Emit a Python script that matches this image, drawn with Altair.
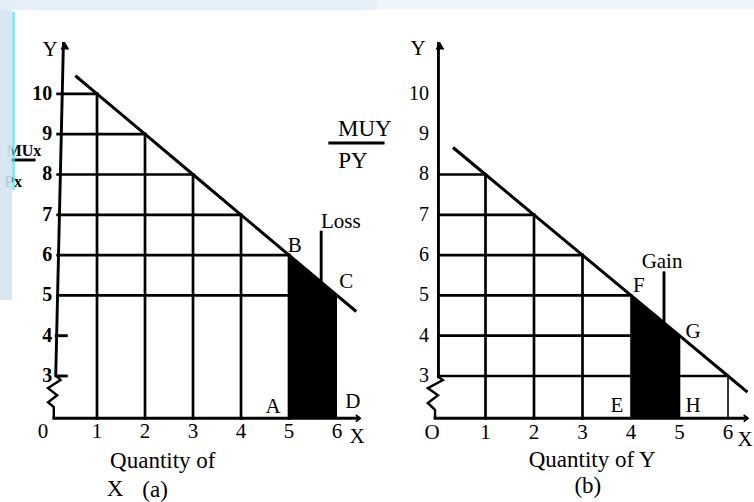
import altair as alt
import pandas as pd

# ---- data -------------------------------------------------------------
units = [1, 2, 3, 4, 5, 6]
mu_x = [10, 9, 8, 7, 6, 5]          # MUx / Px for each unit of X
mu_y = [8, 7, 6, 5, 4, 3]           # MUy / Py for each unit of Y

# schedule lines (unit points plus the overhang at both ends)
line_a_x = [0.55, 1, 2, 3, 4, 5, 6, 6.4]
line_a_y = [10.45, 10, 9, 8, 7, 6, 5, 4.6]
line_b_x = [0.33, 1, 2, 3, 4, 5, 6, 6.4]
line_b_y = [8.67, 8, 7, 6, 5, 4, 3, 2.6]

y_ticks = [3, 4, 5, 6, 7, 8, 9, 10]
x_ticks = [0, 1, 2, 3, 4, 5, 6]
x_labels_a = ["0", "1", "2", "3", "4", "5", "6"]
x_labels_b = ["O", "1", "2", "3", "4", "5", "6"]

BASE = 1.95                          # level of the (broken) horizontal axis

# ---- panel geometry ---------------------------------------------------
W, H = 377, 502
XA = alt.Scale(domain=[-1.021, 6.833], nice=False, zero=False)
XB = alt.Scale(domain=[-1.237, 6.536], nice=False, zero=False)
YS = alt.Scale(domain=[-0.127, 12.33], nice=False, zero=False)
FONT = "Liberation Serif"


def rules(df, xs, width=2.7):
    return alt.Chart(df).mark_rule(color="black", strokeWidth=width, strokeCap="square").encode(
        x=alt.X("x:Q", scale=xs, axis=None),
        x2="x2:Q",
        y=alt.Y("y:Q", scale=YS, axis=None),
        y2="y2:Q",
    )


def path(xv, yv, xs, width=3.0):
    df = pd.DataFrame({"x": xv, "y": yv, "o": range(len(xv))})
    return alt.Chart(df).mark_line(color="black", strokeWidth=width, strokeJoin="miter").encode(
        x=alt.X("x:Q", scale=xs, axis=None),
        y=alt.Y("y:Q", scale=YS, axis=None),
        order="o:O",
    )


def texts(df, xs, size=19, weight="normal", align="center"):
    return alt.Chart(df).mark_text(
        font=FONT, fontSize=size, fontWeight=weight, align=align, baseline="middle", color="black"
    ).encode(
        x=alt.X("x:Q", scale=xs, axis=None),
        y=alt.Y("y:Q", scale=YS, axis=None),
        text="t:N",
    )


def shade(xv, yv, xs):
    df = pd.DataFrame({"x": xv, "y": yv, "b": [BASE] * len(xv)})
    return alt.Chart(df).mark_area(color="black", opacity=1).encode(
        x=alt.X("x:Q", scale=xs, axis=None),
        y=alt.Y("y:Q", scale=YS, axis=None),
        y2="b:Q",
    )


def arrows(ax, ay, bx, by, xs):
    up = alt.Chart(pd.DataFrame({"x": [ax], "y": [ay]})).mark_point(
        shape="triangle-up", filled=True, color="black", size=80, opacity=1
    ).encode(x=alt.X("x:Q", scale=xs, axis=None), y=alt.Y("y:Q", scale=YS, axis=None))
    right = alt.Chart(pd.DataFrame({"x": [bx], "y": [by]})).mark_point(
        shape="M-1,-0.8L0,0L-1,0.8", filled=False, color="black", size=70, strokeWidth=1.8, opacity=1
    ).encode(x=alt.X("x:Q", scale=xs, axis=None), y=alt.Y("y:Q", scale=YS, axis=None))
    return up + right


def band(x, x2, y, y2, color, opacity):
    df = pd.DataFrame({"x": [x], "x2": [x2], "y": [y], "y2": [y2]})
    return alt.Chart(df).mark_rect(color=color, opacity=opacity).encode(
        x=alt.X("x:Q", scale=None), x2="x2:Q", y=alt.Y("y:Q", scale=None), y2="y2:Q"
    )


# ---- panel (a): commodity X -------------------------------------------
AX_A = 0.18
grid_a = pd.DataFrame(
    [dict(x=u, x2=u, y=BASE, y2=m) for u, m in zip(units[:5], mu_x[:5])]
    + [dict(x=AX_A, x2=u, y=m, y2=m) for u, m in zip(units[:5], mu_x[:5])]
    + [dict(x=AX_A, x2=5, y=5, y2=5)]
)
axes_a = pd.DataFrame([
    dict(x=0.30, x2=0.14, y=11.25, y2=3.02),       # vertical axis
    dict(x=0.10, x2=6.45, y=BASE, y2=BASE),        # horizontal axis
    dict(x=0.15, x2=0.36, y=4, y2=4),              # stubs at 4 and 3
    dict(x=0.15, x2=0.36, y=3, y2=3),
    dict(x=5.67, x2=5.67, y=6.57, y2=5.33),        # Loss pointer
    dict(x=5.85, x2=6.96, y=8.78, y2=8.78),        # MUy / Py bar
    dict(x=-0.77, x2=-0.31, y=8.36, y2=8.36),      # MUx / Px bar
])
zig_a_x = [0.14, 0.24, -0.02, 0.17, -0.02, 0.1, 0.1]
zig_a_y = [3.02, 2.9, 2.7, 2.52, 2.35, 2.23, BASE]

yt_a = pd.DataFrame({"x": [0.07] * len(y_ticks), "y": y_ticks, "t": [str(v) for v in y_ticks]})
xt_a = pd.DataFrame({"x": [-0.125] + x_ticks[1:], "y": [1.61] * len(x_ticks), "t": x_labels_a})
lab_a = pd.DataFrame([
    dict(x=4.67, y=2.23, t="A"), dict(x=6.33, y=2.35, t="D"),
    dict(x=5.12, y=6.23, t="B"), dict(x=6.19, y=5.33, t="C"),
    dict(x=6.08, y=6.82, t="Loss"),
    dict(x=6.42, y=1.49, t="X"), dict(x=0.02, y=11.09, t="Y"),
])
title_a = pd.DataFrame([
    dict(x=2.37, y=0.89, t="Quantity of"),
    dict(x=1.375, y=0.20, t="X"), dict(x=2.21, y=0.16, t="(a)"),
    dict(x=6.58, y=9.12, t="MUY"), dict(x=6.33, y=8.33, t="PY"),
])
side_a = pd.DataFrame([dict(x=-0.16, y=8.58, t="MUx")])
side_a2 = pd.DataFrame([dict(x=-0.56, y=7.81, t="Px")])

panel_a = alt.layer(
    shade(units[4:6], mu_x[4:6], XA),
    rules(grid_a, XA),
    rules(axes_a, XA, width=2.9),
    path(zig_a_x, zig_a_y, XA, width=2.4),
    path(line_a_x, line_a_y, XA),
    arrows(0.33, 11.2, 6.48, BASE, XA),
    texts(yt_a, XA, size=20, weight="bold", align="right"),
    texts(xt_a, XA, size=21),
    texts(lab_a, XA, size=21),
    texts(title_a, XA, size=23),
    texts(side_a, XA, size=16, weight="bold", align="right"),
    texts(side_a2, XA, size=16, weight="bold", align="right"),
    band(0, 12, 0, 300, "#d4e4f0", 0.9),
    band(12, 15, 12, 190, "#4fe8f0", 0.7),
    band(0, 377, 0, 10, "#e3edf8", 0.9),
).properties(width=W, height=H)

# ---- panel (b): commodity Y -------------------------------------------
AX_B = 0.03
grid_b = pd.DataFrame(
    [dict(x=u, x2=u, y=BASE, y2=m) for u, m in zip(units[:3], mu_y[:3])]
    + [dict(x=AX_B, x2=u, y=m, y2=m) for u, m in zip(units[:4], mu_y[:4])]
    + [dict(x=AX_B, x2=4, y=4, y2=4), dict(x=AX_B, x2=4, y=3, y2=3), dict(x=5, x2=6, y=3, y2=3)]
)
thin_b = pd.DataFrame([dict(x=u, x2=u, y=BASE, y2=m) for u, m in zip(units[3:], mu_y[3:])])
axes_b = pd.DataFrame([
    dict(x=AX_B, x2=AX_B, y=11.25, y2=2.98),
    dict(x=-0.04, x2=6.38, y=BASE, y2=BASE),
    dict(x=4.68, x2=4.68, y=5.56, y2=4.32),         # Gain pointer
])
zig_b_x = [0.03, 0.12, -0.19, 0.02, -0.19, -0.04, -0.04]
zig_b_y = [2.98, 2.9, 2.7, 2.52, 2.33, 2.16, BASE]

yt_b = pd.DataFrame({"x": [-0.165] * len(y_ticks), "y": y_ticks, "t": [str(v) for v in y_ticks]})
xt_b = pd.DataFrame({"x": [-0.10] + x_ticks[1:], "y": [1.59] * len(x_ticks), "t": x_labels_b})
lab_b = pd.DataFrame([
    dict(x=3.71, y=2.26, t="E"), dict(x=5.28, y=2.26, t="H"),
    dict(x=4.16, y=5.23, t="F"), dict(x=5.28, y=4.09, t="G"),
    dict(x=4.64, y=5.83, t="Gain"),
    dict(x=6.35, y=1.41, t="X"), dict(x=-0.39, y=11.11, t="Y"),
])
title_b = pd.DataFrame([
    dict(x=3.20, y=0.92, t="Quantity of Y"), dict(x=3.11, y=0.27, t="(b)"),
])

panel_b = alt.layer(
    shade(units[3:5], mu_y[3:5], XB),
    rules(grid_b, XB),
    rules(thin_b, XB, width=1.6),
    rules(axes_b, XB, width=2.9),
    path(zig_b_x, zig_b_y, XB, width=2.4),
    path(line_b_x, line_b_y, XB),
    arrows(0.06, 11.2, 6.41, BASE, XB),
    texts(yt_b, XB, size=20, align="right"),
    texts(xt_b, XB, size=21),
    texts(lab_b, XB, size=21),
    texts(title_b, XB, size=23),
    band(0, 377, 0, 9, "#eaf2fa", 0.8),
).properties(width=W, height=H)

chart = alt.hconcat(panel_a, panel_b, spacing=0, bounds="flush").properties(
    padding=0, background="white"
).configure_view(stroke=None)

chart.save("out.html", embed_options={"renderer": "svg", "actions": False})
